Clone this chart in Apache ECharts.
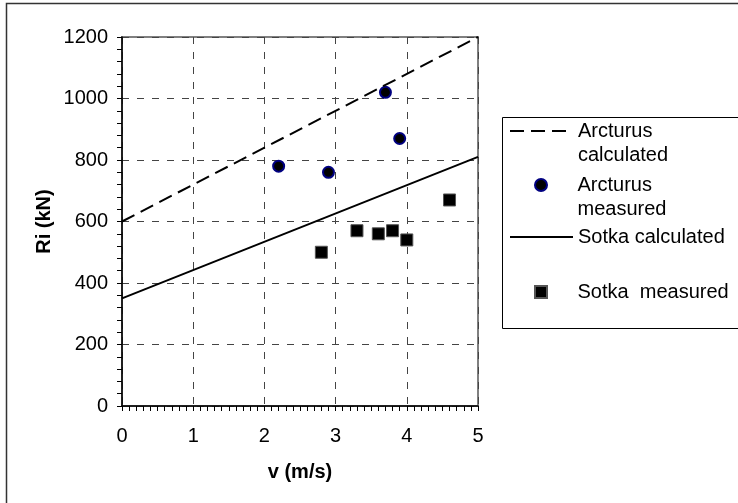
<!DOCTYPE html>
<html style="height: 100%">
   <head>
       <meta charset="utf-8">
   </head>
   <body style="height: 100%; margin: 0; background: #fff;">
       <div id="container" style="width: 738px; height: 503px;"></div>

       <script type="text/javascript" src="https://cdn.jsdelivr.net/npm/echarts@6/dist/echarts.min.js"></script>
       <script type="text/javascript">
            // 数据
            var arcturusCalcX = [0, 5];
            var arcturusCalcY = [600, 1200];
            var arcturusMeasX = [2.2, 2.9, 3.7, 3.9];
            var arcturusMeasY = [780, 760, 1020, 870];
            var sotkaCalcX = [0, 5];
            var sotkaCalcY = [350, 810];
            var sotkaMeasX = [2.8, 3.3, 3.6, 3.8, 4.0, 4.6];
            var sotkaMeasY = [500, 570, 560, 570, 540, 670];

            function pairs(xs, ys) {
                return xs.map(function (x, i) { return [x, ys[i]]; });
            }

            var FONT = "'Liberation Sans', Arial, sans-serif";
            var dom = document.getElementById("container");
            var myChart = echarts.init(dom);

            // 图例：每项一个 legend，方便定位
            function legendItem(item, left, top) {
                return {
                    data: [item],
                    orient: 'vertical',
                    left: left,
                    top: top,
                    padding: 0,
                    itemWidth: 63,
                    itemHeight: 12,
                    selectedMode: false,
                    formatter: function (n) {
                        // 首行留空，让第一行文字和图标对齐
                        if (n === 'Arcturus calculated') return ' \nArcturus\ncalculated';
                        if (n === 'Arcturus measured') return ' \nArcturus\nmeasured';
                        if (n === 'Sotka measured') return 'Sotka  measured';
                        return n;
                    },
                    textStyle: {
                        fontFamily: FONT,
                        fontSize: 20,
                        color: '#000',
                        lineHeight: 24
                    }
                };
            }

            var option = {
                animation: false,
                grid: {
                    left: 122,
                    right: 260,
                    top: 37,
                    bottom: 97,
                    show: true,
                    borderColor: '#808080',
                    borderWidth: 2
                },
                legend: [
                    legendItem({name: 'Arcturus calculated', itemStyle: {opacity: 0}}, 509, 95),
                    legendItem({name: 'Arcturus measured'}, 534, 149),
                    legendItem({name: 'Sotka calculated', itemStyle: {opacity: 0}}, 509, 225),
                    legendItem({name: 'Sotka measured', icon: 'path://M0,0H10V10H0Z'}, 534, 280)
                ],
                graphic: [
                    {   // 外框
                        type: 'rect',
                        shape: {x: 6.5, y: 3.5, width: 800, height: 600},
                        style: {fill: null, stroke: '#333', lineWidth: 1.5},
                        silent: true
                    },
                    {   // 图例框
                        type: 'rect',
                        shape: {x: 502.5, y: 117.5, width: 300, height: 211},
                        style: {fill: null, stroke: '#000', lineWidth: 1},
                        silent: true
                    }
                ],
                xAxis: {
                    type: 'value',
                    min: 0,
                    max: 5,
                    interval: 1,
                    name: 'v (m/s)',
                    nameLocation: 'middle',
                    nameGap: 56,
                    nameTextStyle: {fontFamily: FONT, fontSize: 20, fontWeight: 'bold', color: '#000'},
                    axisLine: {lineStyle: {color: '#000', width: 1.5}},
                    axisTick: {length: 5, lineStyle: {color: '#000'}},
                    minorTick: {show: true, splitNumber: 10, length: 5, lineStyle: {color: '#000'}},
                    axisLabel: {fontFamily: FONT, fontSize: 20, color: '#000', margin: 20},
                    splitLine: {show: true, lineStyle: {color: '#444', type: [7, 8], width: 1}}
                },
                yAxis: {
                    type: 'value',
                    min: 0,
                    max: 1200,
                    interval: 200,
                    name: 'Ri (kN)',
                    nameLocation: 'middle',
                    nameGap: 68,
                    nameTextStyle: {fontFamily: FONT, fontSize: 20, fontWeight: 'bold', color: '#000'},
                    axisLine: {lineStyle: {color: '#000', width: 1.5}},
                    axisTick: {length: 5, lineStyle: {color: '#000'}},
                    minorTick: {show: true, splitNumber: 5, length: 5, lineStyle: {color: '#000'}},
                    axisLabel: {
                        fontFamily: FONT, fontSize: 20, color: '#000', margin: 14,
                        formatter: function (v) { return String(v); }
                    },
                    splitLine: {show: true, lineStyle: {color: '#444', type: [7, 8], width: 1}}
                },
                series: [
                    {
                        name: 'Arcturus calculated',
                        type: 'line',
                        symbol: 'none',
                        lineStyle: {color: '#000', width: 2, type: [14, 7]},
                        itemStyle: {color: '#000'},
                        data: pairs(arcturusCalcX, arcturusCalcY)
                    },
                    {
                        name: 'Arcturus measured',
                        type: 'scatter',
                        symbol: 'circle',
                        symbolSize: 11,
                        itemStyle: {color: '#000', borderColor: '#000080', borderWidth: 2, opacity: 1},
                        data: pairs(arcturusMeasX, arcturusMeasY)
                    },
                    {
                        name: 'Sotka calculated',
                        type: 'line',
                        symbol: 'none',
                        lineStyle: {color: '#000', width: 2},
                        itemStyle: {color: '#000'},
                        data: pairs(sotkaCalcX, sotkaCalcY)
                    },
                    {
                        name: 'Sotka measured',
                        type: 'scatter',
                        symbol: 'rect',
                        symbolSize: 12,
                        itemStyle: {color: '#000', borderColor: '#555', borderWidth: 1, opacity: 1},
                        data: pairs(sotkaMeasX, sotkaMeasY)
                    }
                ]
            };

            if (option && typeof option === "object") {
                myChart.setOption(option, true);
            }
       </script>
   </body>
</html>
